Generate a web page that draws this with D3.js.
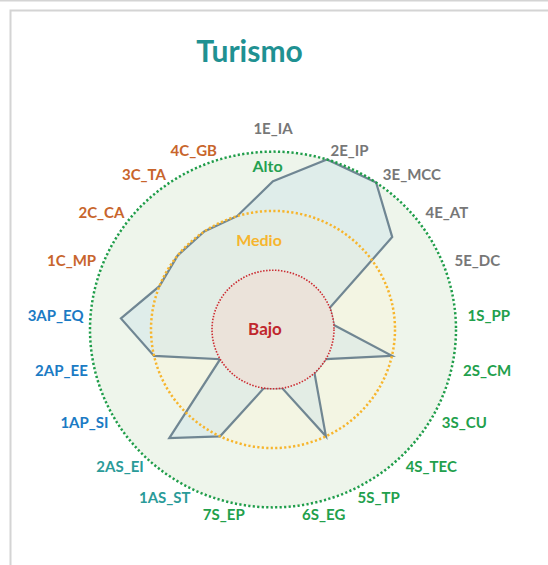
<!DOCTYPE html>
<html>
<head>
<meta charset="utf-8">
<script src="https://cdn.jsdelivr.net/npm/d3@7"></script>
<style>
  body { margin: 0; background: #fff; }
  svg { display: block; font-family: Lato, "Open Sans", sans-serif; }
</style>
</head>
<body>
<svg id="chart" width="548" height="565"></svg>
<script>
// Indicators around the radar, clockwise from the top
const axes = ["1E_IA", "2E_IP", "3E_MCC", "4E_AT", "5E_DC",
              "1S_PP", "2S_CM", "3S_CU", "4S_TEC", "5S_TP", "6S_EG", "7S_EP",
              "1AS_ST", "2AS_EI", "1AP_SI", "2AP_EE", "3AP_EQ",
              "1C_MP", "2C_CA", "3C_TA", "4C_GB"];
const groups = ["E", "E", "E", "E", "E",
                "S", "S", "S", "S", "S", "S", "S",
                "AS", "AS", "AP", "AP", "AP",
                "C", "C", "C", "C"];
// Score per indicator (1 = Bajo, 2 = Medio, 3 = Alto)
const values = [2.5, 3, 3, 2.5, 1,
                1, 2, 1, 1, 2, 1, 1,
                2, 2.5, 1, 2, 2.5,
                2, 2, 2, 2];
const levelNames = ["Bajo", "Medio", "Alto"];
const levelValues = [1, 2, 3];
const title = "Turismo";

const groupColor = { E: "#777777", S: "#22a04c", AS: "#2a9b99", AP: "#1b7bc4", C: "#c8652c" };
const levelStroke = { Bajo: "#cc2a30", Medio: "#f7b52c", Alto: "#1f9d4a" };
const levelFill = { Bajo: "#ebe3da", Medio: "#f3f5e3", Alto: "#eef5eb" };
const levelText = { Bajo: "#c0272d", Medio: "#f6b52e", Alto: "#23a04f" };

const W = 548, H = 565;
const cx = 273, cy = 329.5, ky = 0.972;
const svg = d3.select("#chart");

// panel frame
svg.append("line").attr("x1", 0).attr("x2", W).attr("y1", 0.7).attr("y2", 0.7)
  .attr("stroke", "#d4d4d4").attr("stroke-width", 1.5);
svg.append("path").attr("d", `M${W + 5},10.5 H10.5 V${H + 5}`)
  .attr("fill", "none").attr("stroke", "#d4d4d4").attr("stroke-width", 2);

svg.append("text").attr("x", 249.5).attr("y", 62).attr("text-anchor", "middle")
  .attr("font-size", 30).attr("font-weight", 700).attr("fill", "#1f9192").text(title);

const r = d3.scaleLinear().domain([0, 3]).range([0, 183]);
const step = 2 * Math.PI / axes.length;
const ang = i => i * step;
const px = (i, v) => Math.sin(ang(i)) * r(v);
const py = (i, v) => -Math.cos(ang(i)) * r(v) * ky;

const g = svg.append("g").attr("transform", `translate(${cx},${cy})`);

const levels = levelNames.map((n, i) => ({ name: n, v: levelValues[i] })).reverse();
const outer = levels.filter(d => d.name !== "Bajo");
const inner = levels.filter(d => d.name === "Bajo");

// Alto and Medio discs
g.selectAll("ellipse.fill").data(outer).join("ellipse")
  .attr("class", "fill")
  .attr("rx", d => r(d.v)).attr("ry", d => r(d.v) * ky)
  .attr("fill", d => levelFill[d.name]);

// score polygon
const line = d3.line().x(d => px(d.i, d.v)).y(d => py(d.i, d.v)).curve(d3.curveLinearClosed);
const pts = values.map((v, i) => ({ i, v }));
g.append("path").attr("d", line(pts))
  .attr("fill", "#b9d9ea").attr("fill-opacity", 0.28)
  .attr("stroke", "#5b7384").attr("stroke-opacity", 0.85)
  .attr("stroke-width", 2.2).attr("stroke-linejoin", "miter");

// Bajo disc sits over the polygon
g.selectAll("ellipse.core").data(inner).join("ellipse")
  .attr("class", "core")
  .attr("rx", d => r(d.v)).attr("ry", d => r(d.v) * ky)
  .attr("fill", d => levelFill[d.name]);

// dotted level outlines
g.selectAll("ellipse.ring").data(levels).join("ellipse")
  .attr("class", "ring")
  .attr("rx", d => r(d.v)).attr("ry", d => r(d.v) * ky)
  .attr("fill", "none")
  .attr("stroke", d => levelStroke[d.name])
  .attr("stroke-width", d => d.name === "Bajo" ? 1.6 : 2.5)
  .attr("stroke-dasharray", d => d.name === "Bajo" ? "1.5,1.5" : "2.2,2.3");

// level names
const bandPos = { Alto: { v: 2.75, dx: -5.5 }, Medio: { v: 1.5, dx: -14 }, Bajo: { v: 0, dx: -8 } };
g.selectAll("text.level").data(levels).join("text")
  .attr("class", "level")
  .attr("x", d => bandPos[d.name].dx)
  .attr("y", d => -r(bandPos[d.name].v) * ky)
  .attr("dy", "0.35em")
  .attr("text-anchor", "middle")
  .attr("font-size", d => d.name === "Bajo" ? 17 : 16)
  .attr("font-weight", 700)
  .attr("fill", d => levelText[d.name])
  .text(d => d.name);

// axis labels: right side start-anchored, left side end-anchored
const RxRight = 195, RxLeft = 190, Ry = 187, fs = 15;
g.selectAll("text.axis").data(axes).join("text")
  .attr("class", "axis")
  .each(function (d, i) {
    const s = Math.sin(ang(i)), c = Math.cos(ang(i));
    const anchor = Math.abs(s) < 0.05 ? "middle" : (s > 0 ? "start" : "end");
    const extra = anchor === "middle" ? -fs * 0.95 * Math.sign(c) : 0;
    d3.select(this)
      .attr("x", (s > 0 ? RxRight : RxLeft) * s)
      .attr("y", -Ry * c + extra)
      .attr("dy", "0.35em")
      .attr("text-anchor", anchor);
  })
  .attr("font-size", fs)
  .attr("font-weight", 700)
  .attr("fill", (d, i) => groupColor[groups[i]])
  .text(d => d);
</script>
</body>
</html>
